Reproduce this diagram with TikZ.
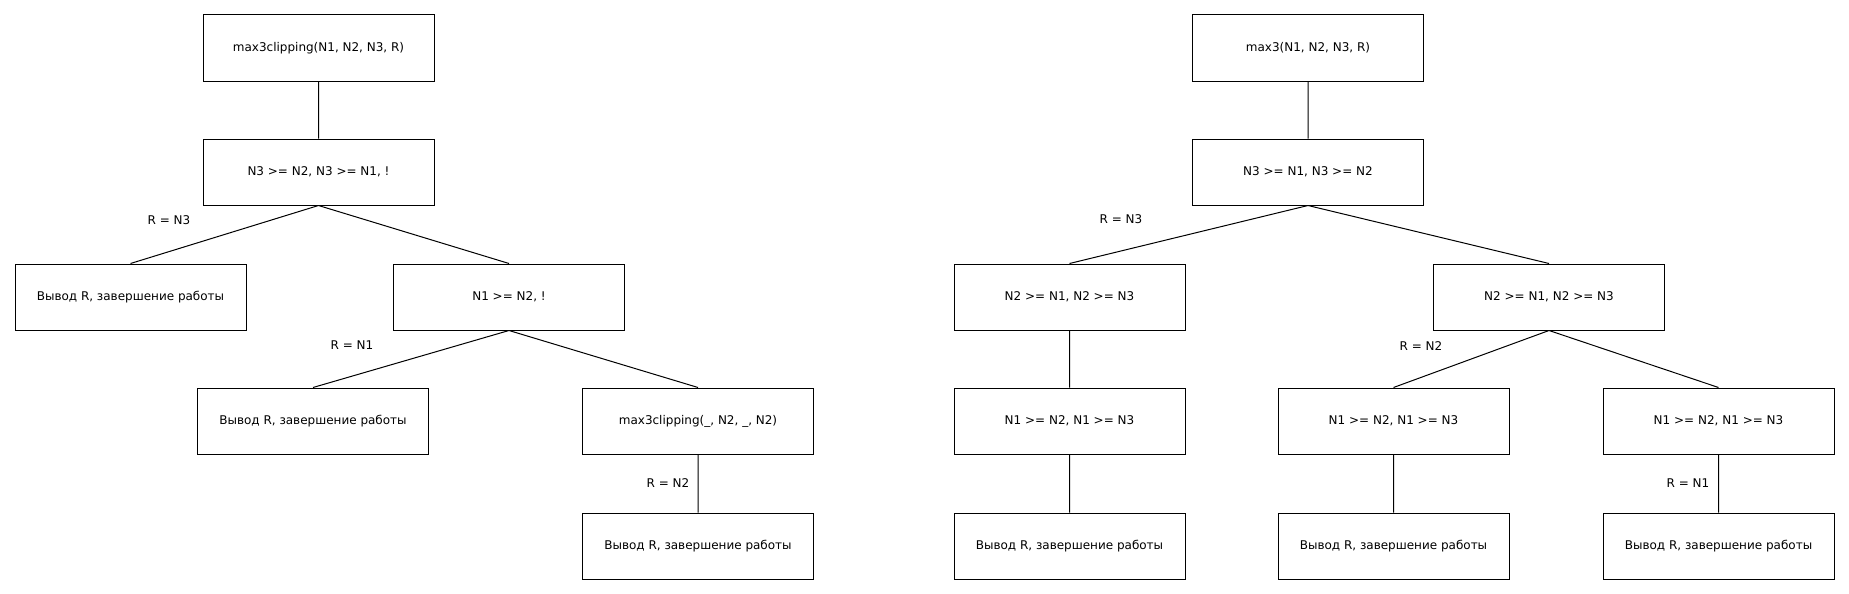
\documentclass[tikz,border=0pt]{standalone}
\usepackage{fontspec}
\setmainfont{DejaVu Sans}
\begin{document}
\begin{tikzpicture}[x=1pt,y=-1pt,line width=1pt,
box/.style={draw,line width=1pt,minimum width=231pt,minimum height=66pt,inner sep=0pt},
cond/.style={inner sep=0pt},
font=\fontsize{12}{14}\selectfont]
\useasboundingbox (0,0) rectangle (1849,594);

\node[box] (A) at (318.5,48) {max3clipping(N1, N2, N3, R)};
\node[box] (B) at (318.5,172) {N3 >= N2, N3 >= N1, !};
\node[box] (C) at (130.5,297) {Вывод R, завершение работы};
\node[box] (D) at (509,297) {N1 >= N2, !};
\node[box] (E) at (313,421) {Вывод R, завершение работы};
\node[box] (F) at (698,421) {max3clipping(\_, N2, \_, N2)};
\node[box] (G) at (698,546) {Вывод R, завершение работы};
\node[cond] (rA) at (169,220) {R = N3};
\node[cond] (rB) at (352,345) {R = N1};
\node[cond] (rC) at (668,483) {R = N2};
\draw
(A.south) -- (B.north)
(B.south) -- (C.north)
(B.south) -- (D.north)
(D.south) -- (E.north)
(D.south) -- (F.north)
(F.south) -- (G.north);

\node[box] (H) at (1308,48) {max3(N1, N2, N3, R)};
\node[box] (I) at (1308,172) {N3 >= N1, N3 >= N2};
\node[box] (J) at (1069.5,297) {N2 >= N1, N2 >= N3};
\node[box] (K) at (1549,297) {N2 >= N1, N2 >= N3};
\node[box] (L) at (1069.5,421) {N1 >= N2, N1 >= N3};
\node[box] (M) at (1393.5,421) {N1 >= N2, N1 >= N3};
\node[box] (N) at (1718.5,421) {N1 >= N2, N1 >= N3};
\node[box] (L1) at (1069.5,546) {Вывод R, завершение работы};
\node[box] (M1) at (1393.5,546) {Вывод R, завершение работы};
\node[box] (N1) at (1718.5,546) {Вывод R, завершение работы};
\node[cond] (rD) at (1121,219) {R = N3};
\node[cond] (rE) at (1421,346) {R = N2};
\node[cond] (rF) at (1688,483) {R = N1};
\draw
(H.south) -- (I.north)
(I.south) -- (J.north)
(I.south) -- (K.north)
(J.south) -- (L.north)
(L.south) -- (L1.north)
(K.south) -- (M.north)
(K.south) -- (N.north)
(M.south) -- (M1.north)
(N.south) -- (N1.north);
\end{tikzpicture}
\end{document}
